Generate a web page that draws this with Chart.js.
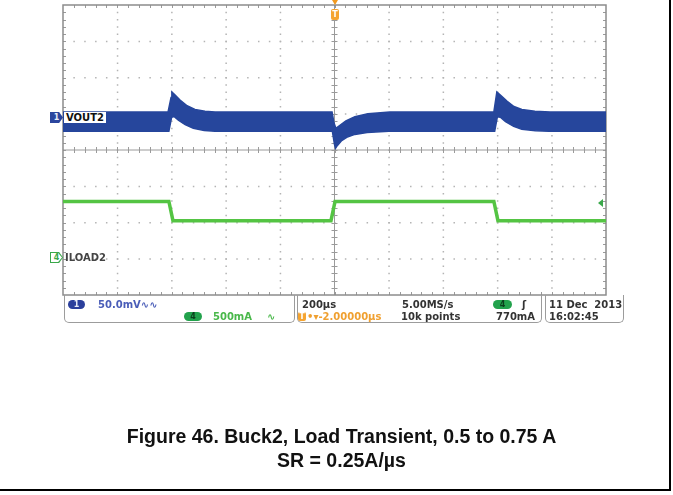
<!DOCTYPE html>
<html>
<head>
<meta charset="utf-8">
<title>Figure 46. Buck2, Load Transient</title>
<script src="https://cdn.jsdelivr.net/npm/chart.js@4.4.1/dist/chart.umd.min.js"></script>
<style>
  body { margin: 0; background: #fff; }
  #wrap { position: relative; width: 673px; height: 495px; overflow: hidden; font-family: "DejaVu Sans", sans-serif; }
  #scope { position: absolute; left: 0; top: 0; }
  .t { position: absolute; font-weight: bold; font-size: 10px; line-height: 11px; white-space: nowrap; color: #333; }
  .box { position: absolute; top: 295px; height: 28px; border: 1px solid #9c9c9c; border-top: none; border-radius: 0 0 5px 5px; box-sizing: border-box; }
  .badge { position: absolute; height: 9px; border-radius: 5px; font-size: 8px; line-height: 9px; font-weight: bold; text-align: center; }
  .tag { position: absolute; width: 13px; height: 11px; clip-path: polygon(0 0, 70% 0, 100% 50%, 70% 100%, 0 100%); }
  .tag span { position: absolute; left: 1px; top: 1px; width: 11px; height: 9px; font-size: 8px; line-height: 9px; font-weight: bold; text-align: center;
              clip-path: polygon(0 0, 65% 0, 100% 50%, 65% 100%, 0 100%); }
  #frame { position: absolute; left: 0; top: 0; width: 671px; height: 491px; border-right: 2px solid #000; border-bottom: 2px solid #000; box-sizing: border-box; }
  .cap { position: absolute; left: 0; width: 683px; text-align: center; font-family: "Liberation Sans", Arial, sans-serif; font-weight: bold; font-size: 19.5px; color: #111; }
</style>
</head>
<body>
<div id="wrap">
  <canvas id="scope" width="673" height="495"></canvas>

  <!-- channel markers on the graticule -->
  <div class="tag" style="left:50px; top:112px; background:#2b469e;"><span style="background:#2b469e; color:#e8ecf8;">1</span></div>
  <div class="t" style="left:64px; top:112px; background:#fff; padding:0 2px; color:#111;">VOUT2</div>
  <div class="tag" style="left:50px; top:252px; background:#3aa84a;"><span style="background:#fff; color:#3aa84a;">4</span></div>
  <div class="t" style="left:65px; top:252px; color:#444;">ILOAD2</div>

  <!-- trigger position and level -->
  <div style="position:absolute; left:332px; top:0; width:0; height:0; border-left:3px solid transparent; border-right:3px solid transparent; border-top:5px solid #f29a1f;"></div>
  <div style="position:absolute; left:331px; top:9px; width:8px; height:11px; background:#f5a430; border-radius:2px; color:#fff; font-size:8px; line-height:11px; font-weight:bold; text-align:center;">T</div>
  <div style="position:absolute; left:598px; top:199px; width:0; height:0; border-top:4px solid transparent; border-bottom:4px solid transparent; border-right:5px solid #3aa84a;"></div>

  <!-- readout panel -->
  <div class="box" style="left:64px; width:231px;"></div>
  <div class="box" style="left:297px; width:245px;"></div>
  <div class="box" style="left:545px; width:79px;"></div>

  <div class="badge" style="left:68px; top:300px; width:17px; background:#2b3f9c; color:#e8ecf8;">1</div>
  <div class="t" style="left:98px; top:299px; color:#4a5db8;">50.0mV∿∿</div>
  <div class="badge" style="left:184px; top:312px; width:18px; background:#22a24c; color:#0b3d1c;">4</div>
  <div class="t" style="left:213px; top:311px; color:#49b84a;">500mA</div>
  <div class="t" style="left:267px; top:311px; color:#49b84a;">∿</div>

  <div class="t" style="left:302px; top:299px;">200µs</div>
  <div class="t" style="left:402px; top:299px;">5.00MS/s</div>
  <div class="badge" style="left:493px; top:300px; width:19px; background:#22a24c; color:#0b3d1c;">4</div>
  <div class="t" style="left:522px; top:299px;">ʃ</div>
  <div class="badge" style="left:298px; top:312px; width:8px; border-radius:2px; background:#f5a430; color:#fff;">T</div>
  <div class="t" style="left:307px; top:311px; color:#f0a030;">•▾-2.00000µs</div>
  <div class="t" style="left:401px; top:311px;">10k points</div>
  <div class="t" style="left:496px; top:311px;">770mA</div>

  <div class="t" style="left:549px; top:299px;">11 Dec&nbsp; 2013</div>
  <div class="t" style="left:549px; top:311px;">16:02:45</div>

  <div class="cap" style="top:425px;">Figure 46. Buck2, Load Transient, 0.5 to 0.75 A</div>
  <div class="cap" style="top:449px;">SR = 0.25A/µs</div>
  <div id="frame"></div>
</div>

<script>
// time in microseconds (200 us/div, trigger at centre), amplitude in graticule divisions
const voutUpperTime = [-1000, -613, -602, -599, -588, -569, -543, -514, -477, -440, -9, -2, 5, 20, 42, 75, 123, 204, 587, 598, 613, 635, 661, 690, 738, 794, 1000];
const voutUpper     = [1.05, 1.05, 1.45, 1.6, 1.52, 1.38, 1.22, 1.12, 1.07, 1.05, 1.05, 0.75, 0.6, 0.68, 0.8, 0.92, 1.0, 1.05, 1.05, 1.6, 1.5, 1.35, 1.2, 1.12, 1.07, 1.05, 1.05];
const voutLowerTime = [-1000, -610, -600, -590, -575, -550, -520, -480, -440, -8, 0, 4, 10, 25, 45, 75, 120, 200, 590, 600, 612, 630, 660, 690, 740, 790, 1000];
const voutLower     = [0.52, 0.52, 0.9, 0.92, 0.82, 0.7, 0.6, 0.54, 0.52, 0.52, 0.15, 0.05, 0.12, 0.25, 0.35, 0.43, 0.48, 0.52, 0.52, 0.92, 0.9, 0.78, 0.65, 0.57, 0.53, 0.52, 0.52];
const iloadTime = [-1000, -610, -595, -13, 2, 587, 602, 1000];
const iload     = [-1.42, -1.42, -1.95, -1.95, -1.42, -1.42, -1.95, -1.95];

const xDivs = 10, yDivs = 8, minorPerDiv = 5;

function pts(xs, ys) {
    return xs.map((x, i) => ({ x: x, y: ys[i] }));
}

// Graticule: dotted division lines, solid centre axes with minor ticks, framed edge
const graticule = {
    id: 'graticule',
    beforeDatasetsDraw(chart) {
        const ctx = chart.ctx;
        const xs = chart.scales.x, ys = chart.scales.y;
        const xStep = (xs.max - xs.min) / xDivs, yStep = (ys.max - ys.min) / yDivs;
        const left = xs.getPixelForValue(xs.min), right = xs.getPixelForValue(xs.max);
        const top = ys.getPixelForValue(ys.max), bottom = ys.getPixelForValue(ys.min);
        const cx = xs.getPixelForValue((xs.min + xs.max) / 2), cy = ys.getPixelForValue((ys.min + ys.max) / 2);
        ctx.save();

        // dotted lines
        ctx.fillStyle = '#b4b4b4';
        for (let i = 1; i < xDivs; i++) {
            if (i === xDivs / 2) continue;
            const px = xs.getPixelForValue(xs.min + i * xStep);
            for (let j = 1; j < yDivs * minorPerDiv; j++) {
                const py = ys.getPixelForValue(ys.min + j * yStep / minorPerDiv);
                ctx.fillRect(px - 0.5, py - 0.5, 1.5, 1.5);
            }
        }
        for (let j = 1; j < yDivs; j++) {
            if (j === yDivs / 2) continue;
            const py = ys.getPixelForValue(ys.min + j * yStep);
            for (let i = 1; i < xDivs * minorPerDiv; i++) {
                const px = xs.getPixelForValue(xs.min + i * xStep / minorPerDiv);
                ctx.fillRect(px - 0.5, py - 0.5, 1.5, 1.5);
            }
        }

        // centre axes and ticks
        ctx.strokeStyle = '#9a9a9a';
        ctx.lineWidth = 1;
        ctx.beginPath();
        ctx.moveTo(left, cy); ctx.lineTo(right, cy);
        ctx.moveTo(cx, top); ctx.lineTo(cx, bottom);
        for (let i = 1; i < xDivs * minorPerDiv; i++) {
            const px = Math.round(xs.getPixelForValue(xs.min + i * xStep / minorPerDiv)) + 0.5;
            ctx.moveTo(px, cy - 3); ctx.lineTo(px, cy + 3);
            ctx.moveTo(px, top); ctx.lineTo(px, top + 3);
            ctx.moveTo(px, bottom); ctx.lineTo(px, bottom - 3);
        }
        for (let j = 1; j < yDivs * minorPerDiv; j++) {
            const py = Math.round(ys.getPixelForValue(ys.min + j * yStep / minorPerDiv)) + 0.5;
            ctx.moveTo(cx - 3, py); ctx.lineTo(cx + 3, py);
            ctx.moveTo(left, py); ctx.lineTo(left + 3, py);
            ctx.moveTo(right, py); ctx.lineTo(right - 3, py);
        }
        ctx.stroke();

        ctx.strokeStyle = '#8c8c8c';
        ctx.lineWidth = 1.5;
        ctx.strokeRect(left, top, right - left, bottom - top);
        ctx.restore();
    }
};

const ctx = document.getElementById('scope').getContext('2d');
const scopeChart = new Chart(ctx, {
    type: 'line',
    data: {
        datasets: [
            {
                label: 'VOUT2 upper',
                data: pts(voutUpperTime, voutUpper),
                borderColor: '#26469c',
                backgroundColor: '#26469c',
                borderWidth: 1.5,
                fill: '+1',
                pointRadius: 0
            },
            {
                label: 'VOUT2 lower',
                data: pts(voutLowerTime, voutLower),
                borderColor: '#26469c',
                borderWidth: 1.5,
                fill: false,
                pointRadius: 0
            },
            {
                label: 'ILOAD2',
                data: pts(iloadTime, iload),
                borderColor: '#54c443',
                borderWidth: 3.5,
                fill: false,
                pointRadius: 0
            }
        ]
    },
    options: {
        responsive: false,
        animation: false,
        layout: { padding: { left: 63, top: 5, right: 67, bottom: 200 } },
        scales: {
            x: { type: 'linear', min: -1000, max: 1000, display: false },
            y: { type: 'linear', min: -4, max: 4, display: false }
        },
        plugins: {
            legend: { display: false },
            tooltip: { enabled: false }
        }
    },
    plugins: [graticule]
});
</script>
</body>
</html>
